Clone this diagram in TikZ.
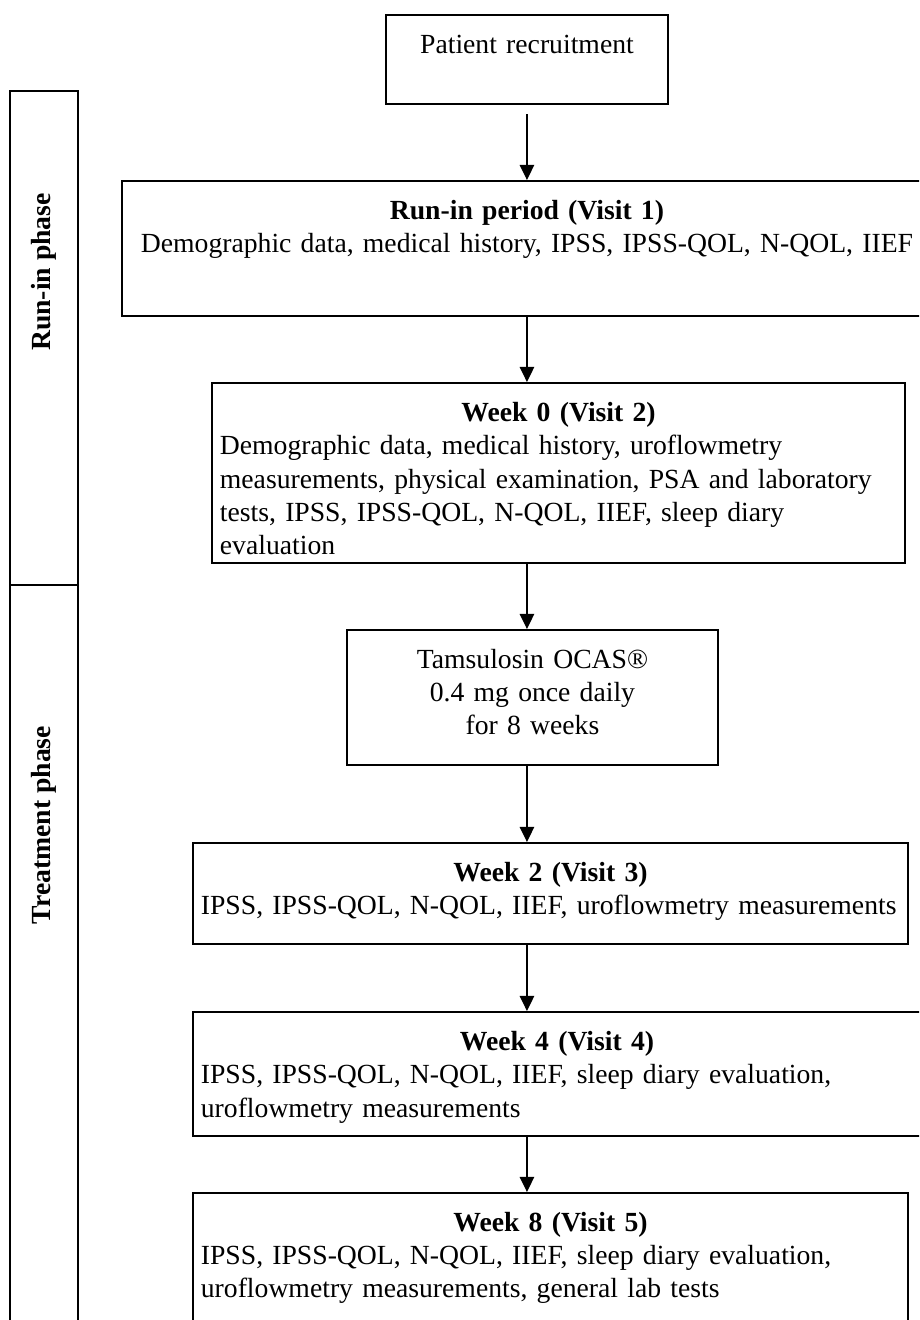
\documentclass[tikz,border=0pt,12pt]{standalone}
\usepackage{fontspec}
\setmainfont{Liberation Serif}
\usetikzlibrary{arrows.meta,positioning}
\setlength{\parindent}{0pt}

\begin{document}
\begin{tikzpicture}[>={Triangle[length=2.3mm,width=2.2mm]},
  stage/.style={draw, line width=0.9pt, anchor=north, inner xsep=1.2mm, inner ysep=0pt, text height=5.8mm},
  phase/.style={draw, line width=0.9pt, anchor=north, minimum width=1.037cm, inner sep=0pt},
  flow/.style={->, line width=0.65pt}]
\useasboundingbox (0,0) rectangle (14.006,-20.117);
\clip (0,0) rectangle (14.006,-20.117);
% phase bars on the left
\node[phase, minimum height=7.528cm] (runphase) at (0.671,-1.372) {};
\node[rotate=90, font=\bfseries] (runlab) at (0.671,-4.145) {Run-in phase};
\node[phase, minimum height=11.6cm] (trtphase) at (0.671,-8.900) {};
\node[rotate=90, font=\bfseries] (trtlab) at (0.671,-12.573) {Treatment phase};
% visits
\coordinate (axis) at (8.031,0);
\node[stage, text width=4.058cm, align=center, text depth=7.76mm] (recruit) at (8.031,-0.213) {Patient recruitment};
\node[stage, text width=12.104cm, align=center, text depth=14.77mm] (visit1) at (8.031,-2.743)
  {\textbf{Run-in period (Visit 1)}\\Demographic data, medical history, IPSS, IPSS-QOL, N-QOL, IIEF};
\node[stage, text width=10.321cm, align=left, text depth=21.63mm] (wk0) at (8.512,-5.822)
  {{\centering\textbf{Week 0 (Visit 2)}\par}Demographic data, medical history, uroflowmetry\\
   measurements, physical examination, PSA and laboratory\\
   tests, IPSS, IPSS-QOL, N-QOL, IIEF, sleep diary\\
   evaluation};
\node[stage, text width=5.414cm, align=center, text depth=14.77mm] (tams) at (8.115,-9.586)
  {Tamsulosin OCAS®\\0.4 mg once daily\\for 8 weeks};
\node[stage, text width=10.657cm, align=left, text depth=9.59mm] (wk2) at (8.390,-12.832)
  {{\centering\textbf{Week 2 (Visit 3)}\par}IPSS, IPSS-QOL, N-QOL, IIEF, uroflowmetry measurements};
\node[stage, text width=10.855cm, align=left, text depth=13.10mm] (wk4) at (8.489,-15.408)
  {{\centering\textbf{Week 4 (Visit 4)}\par}IPSS, IPSS-QOL, N-QOL, IIEF, sleep diary evaluation,\\
   uroflowmetry measurements};
\node[stage, text width=10.657cm, align=left, text depth=16.75mm] (wk8) at (8.390,-18.166)
  {{\centering\textbf{Week 8 (Visit 5)}\par}IPSS, IPSS-QOL, N-QOL, IIEF, sleep diary evaluation,\\
   uroflowmetry measurements, general lab tests};
% arrows
\draw[flow, shorten <=1.4mm] (recruit.south) -- (recruit.south |- visit1.north);
\foreach \a/\b in {visit1/wk0, wk0/tams, tams/wk2, wk2/wk4, wk4/wk8}
  \draw[flow] (\a.south -| axis) -- (\b.north -| axis);
\end{tikzpicture}
\end{document}
